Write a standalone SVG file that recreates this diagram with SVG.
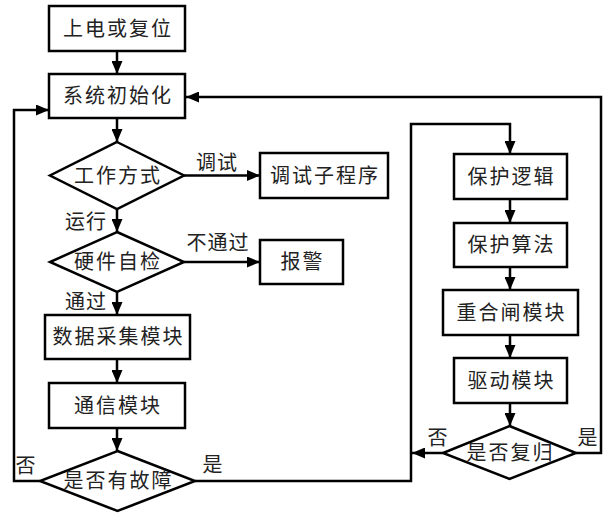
<svg xmlns="http://www.w3.org/2000/svg" width="604" height="514" viewBox="0 0 604 514">
<defs>
<marker id="arr" markerUnits="userSpaceOnUse" markerWidth="13" markerHeight="11" refX="13" refY="5.5" orient="auto">
<path d="M0,0 L13,5.5 L0,11 z" fill="#000"/>
</marker>
<style>
.b{fill:#fff;stroke:#000;stroke-width:2.5}
.t{font-family:"Noto Sans CJK SC","Noto Sans",sans-serif;font-size:20px;letter-spacing:2px;text-anchor:middle;fill:#222}
.l{font-family:"Noto Sans CJK SC","Noto Sans",sans-serif;font-size:20px;letter-spacing:1px;text-anchor:middle;fill:#222}
.c{fill:none;stroke:#000;stroke-width:2.5}
</style>
</defs>
<rect width="604" height="514" fill="#fff"/>
<g id="connectors">
<line class="c" x1="117" y1="51" x2="117" y2="74" marker-end="url(#arr)"/>
<line class="c" x1="117" y1="118" x2="117" y2="142" marker-end="url(#arr)"/>
<line class="c" x1="184" y1="175.5" x2="260" y2="175.5" marker-end="url(#arr)"/>
<line class="c" x1="117" y1="209" x2="117" y2="232" marker-end="url(#arr)"/>
<line class="c" x1="184" y1="262" x2="260" y2="262" marker-end="url(#arr)"/>
<line class="c" x1="117" y1="292" x2="117" y2="315" marker-end="url(#arr)"/>
<line class="c" x1="117" y1="359" x2="117" y2="383" marker-end="url(#arr)"/>
<line class="c" x1="117" y1="428" x2="117" y2="451" marker-end="url(#arr)"/>
<polyline class="c" points="40,481 14,481 14,110 49,110" marker-end="url(#arr)"/>
<polyline class="c" points="195,481 411,481 411,124 510,124 510,154" marker-end="url(#arr)"/>
<line class="c" x1="510" y1="199" x2="510" y2="223" marker-end="url(#arr)"/>
<line class="c" x1="510" y1="267" x2="510" y2="290" marker-end="url(#arr)"/>
<line class="c" x1="510" y1="335" x2="510" y2="358" marker-end="url(#arr)"/>
<line class="c" x1="510" y1="403" x2="510" y2="426" marker-end="url(#arr)"/>
<line class="c" x1="443" y1="453" x2="412" y2="453" marker-end="url(#arr)"/>
<polyline class="c" points="576,453 601,453 601,97 186,97" marker-end="url(#arr)"/>
<text class="l" x="217" y="170">调试</text>
<text class="l" x="86" y="229">运行</text>
<text class="l" x="218" y="250">不通过</text>
<text class="l" x="86" y="309">通过</text>
<text class="l" x="26" y="473">否</text>
<text class="l" x="213" y="472">是</text>
<text class="l" x="438" y="445">否</text>
<text class="l" x="588" y="445">是</text>
</g>
<g id="n1"><rect class="b" x="49" y="6" width="136" height="45"/><text class="t" x="118" y="35.5">上电或复位</text></g>
<g id="n2"><rect class="b" x="49" y="74" width="136" height="44"/><text class="t" x="118" y="103">系统初始化</text></g>
<g id="n3"><polygon class="b" points="117,142 184,175.5 117,209 50,175.5"/><text class="t" x="118" y="182.5">工作方式</text></g>
<g id="n4"><rect class="b" x="260" y="153" width="128" height="45"/><text class="t" x="325" y="182.5">调试子程序</text></g>
<g id="n5"><polygon class="b" points="117,232 184,262 117,292 50,262"/><text class="t" x="118" y="269">硬件自检</text></g>
<g id="n6"><rect class="b" x="260" y="240" width="83" height="44"/><text class="t" x="302.5" y="269">报警</text></g>
<g id="n7"><rect class="b" x="45" y="315" width="145" height="44"/><text class="t" x="118.5" y="344">数据采集模块</text></g>
<g id="n8"><rect class="b" x="49" y="383" width="136" height="45"/><text class="t" x="118" y="412.5">通信模块</text></g>
<g id="n9"><polygon class="b" points="117.5,451 195,481 117.5,511 40,481"/><text class="t" x="118.5" y="488">是否有故障</text></g>
<g id="n10"><rect class="b" x="454" y="154" width="113" height="45"/><text class="t" x="511.5" y="183.5">保护逻辑</text></g>
<g id="n11"><rect class="b" x="454" y="223" width="113" height="44"/><text class="t" x="511.5" y="252">保护算法</text></g>
<g id="n12"><rect class="b" x="443" y="290" width="135" height="45"/><text class="t" x="511.5" y="319.5">重合闸模块</text></g>
<g id="n13"><rect class="b" x="454" y="358" width="113" height="45"/><text class="t" x="511.5" y="387.5">驱动模块</text></g>
<g id="n14"><polygon class="b" points="509.5,426 576,453 509.5,479 443,453"/><text class="t" x="510.5" y="460">是否复归</text></g>
</svg>
